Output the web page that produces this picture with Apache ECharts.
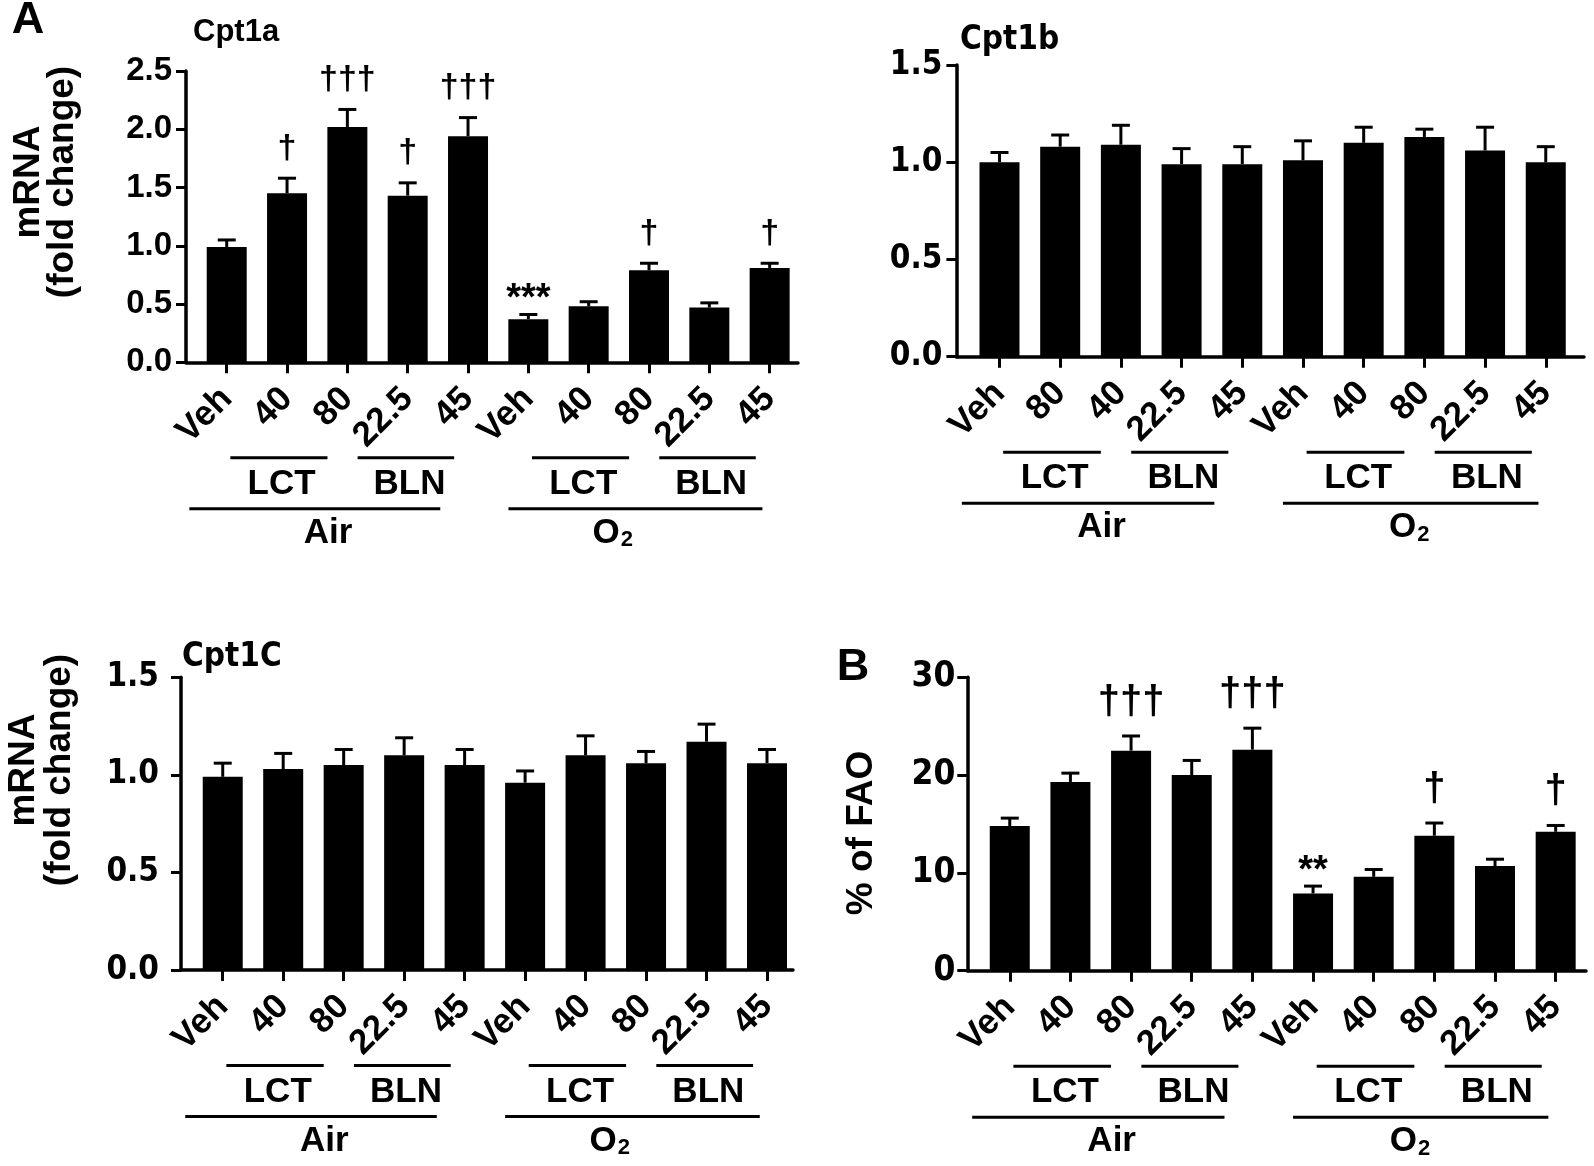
<!DOCTYPE html>
<html><head><meta charset="utf-8">
<script src="https://cdn.jsdelivr.net/npm/echarts@6/dist/echarts.min.js"></script>
<style>html,body{margin:0;padding:0;background:#fff}#c{width:1594px;height:1166px}</style>
</head><body><div id="c"></div>
<script>
// ---------- data ----------
const cpt1aLabels = ['Veh','40','80','22.5','45','Veh','40','80','22.5','45'];
const cpt1aMean   = [0.99, 1.45, 2.02, 1.43, 1.94, 0.37, 0.48, 0.79, 0.47, 0.81];
const cpt1aSem    = [0.06, 0.13, 0.15, 0.11, 0.16, 0.04, 0.04, 0.06, 0.04, 0.04];
const cpt1aSig    = ['', '†', '†††', '†', '†††', '***', '', '†', '', '†'];

const cpt1bLabels = ['Veh','80','40','22.5','45','Veh','40','80','22.5','45'];
const cpt1bMean   = [1.00, 1.08, 1.09, 0.99, 0.99, 1.01, 1.10, 1.13, 1.06, 1.00];
const cpt1bSem    = [0.05, 0.06, 0.10, 0.08, 0.09, 0.10, 0.08, 0.04, 0.12, 0.08];
const cpt1bSig    = ['', '', '', '', '', '', '', '', '', ''];

const cpt1cLabels = ['Veh','40','80','22.5','45','Veh','40','80','22.5','45'];
const cpt1cMean   = [0.99, 1.03, 1.05, 1.10, 1.05, 0.96, 1.10, 1.06, 1.17, 1.06];
const cpt1cSem    = [0.07, 0.08, 0.08, 0.09, 0.08, 0.06, 0.10, 0.06, 0.09, 0.07];
const cpt1cSig    = ['', '', '', '', '', '', '', '', '', ''];

const faoLabels   = ['Veh','40','80','22.5','45','Veh','40','80','22.5','45'];
const faoMean     = [14.8, 19.3, 22.5, 20.0, 22.6, 7.9, 9.6, 13.8, 10.7, 14.2];
const faoSem      = [0.8, 0.9, 1.5, 1.5, 2.2, 0.75, 0.75, 1.3, 0.7, 0.65];
const faoSig      = ['', '', '†††', '', '†††', '**', '', '†', '', '†'];

const drugGroups  = ['LCT', 'BLN'];
const gasGroups   = ['Air', 'O2'];

// ---------- layout / style ----------
const FONT = '"Liberation Sans", Arial, sans-serif';
const NARROW = '"Liberation Sans Narrow", "DejaVu Sans Condensed", "Liberation Sans", Arial, sans-serif';
const GROUP_SIZE = 5;
const SUB_SPANS = [[0.06, 1.67], [2.17, 3.77]];
const SUB_TEXT = [0.91, 3.03];
const GAS_SPANS = [[-0.62, 3.54], [-0.33, 3.88]];

const panels = [
  {labels: cpt1aLabels, mean: cpt1aMean, sem: cpt1aSem, sig: cpt1aSig,
   grid: {left: 186, top: 71, width: 612, height: 291.3}, xMin: -0.675, xMax: 9.47,
   yMax: 2.5, yInt: 0.5, dec: 1, tickFont: FONT, tickSize: 33, tickMargin: 14, sigSize: 34,
   gasText: [1.68, 1.4]},
  {labels: cpt1bLabels, mean: cpt1bMean, sem: cpt1bSem, sig: cpt1bSig,
   grid: {left: 956.4, top: 65, width: 627.6, height: 291.7}, xMin: -0.71, xMax: 9.63,
   yMax: 1.5, yInt: 0.5, dec: 1, tickFont: NARROW, tickSize: 33, tickMargin: 14, sigSize: 34,
   gasText: [1.68, 1.75]},
  {labels: cpt1cLabels, mean: cpt1cMean, sem: cpt1cSem, sig: cpt1cSig,
   grid: {left: 181, top: 677.3, width: 612, height: 292.7}, xMin: -0.69, xMax: 9.43,
   yMax: 1.5, yInt: 0.5, dec: 1, tickFont: NARROW, tickSize: 33, tickMargin: 22, sigSize: 34,
   gasText: [1.68, 1.4]},
  {labels: faoLabels, mean: faoMean, sem: faoSem, sig: faoSig,
   grid: {left: 967.3, top: 677.3, width: 618.7, height: 293.4}, xMin: -0.70, xMax: 9.5,
   yMax: 30, yInt: 10, dec: 0, tickFont: NARROW, tickSize: 35, tickMargin: 12, sigSize: 40,
   gasText: [1.68, 1.6]}
];

const idx = cpt1aLabels.map((_, i) => i);

const grids = [], xAxes = [], yAxes = [], series = [];
panels.forEach((p, k) => {
  grids.push(Object.assign({containLabel: false}, p.grid));
  xAxes.push({
    type: 'value', gridIndex: k, min: p.xMin, max: p.xMax,
    axisLine: {show: true, onZero: false, lineStyle: {color: '#000', width: 3.5}},
    axisTick: {show: true, customValues: idx, length: 11, lineStyle: {color: '#000', width: 3}},
    axisLabel: {show: true, customValues: idx, rotate: 45, margin: 31,
      formatter: v => p.labels[Math.round(v)],
      color: '#000', fontFamily: FONT, fontWeight: 'bold', fontSize: 35},
    splitLine: {show: false}
  });
  yAxes.push({
    type: 'value', gridIndex: k, min: 0, max: p.yMax, interval: p.yInt,
    axisLine: {show: true, onZero: false, lineStyle: {color: '#000', width: 3.5}},
    axisTick: {show: true, length: 10, lineStyle: {color: '#000', width: 3}},
    axisLabel: {margin: p.tickMargin, color: '#000', fontFamily: p.tickFont, fontWeight: 'bold',
      fontSize: p.tickSize, formatter: v => v.toFixed(p.dec)},
    splitLine: {show: false}
  });
  series.push({
    type: 'bar', xAxisIndex: k, yAxisIndex: k, barWidth: 40,
    itemStyle: {color: '#000'}, silent: true,
    data: p.mean.map((m, i) => [i, m])
  });
  series.push({
    type: 'custom', xAxisIndex: k, yAxisIndex: k, clip: false, silent: true, z: 5,
    encode: {x: 0, y: [1, 2]},
    data: p.mean.map((m, i) => [i, m, m + p.sem[i]]),
    renderItem: (params, api) => {
      const i = api.value(0), m = api.value(1), t = api.value(2);
      const p0 = api.coord([i, m]), p1 = api.coord([i, t]);
      const ch = [
        {type: 'line', shape: {x1: p0[0], y1: p0[1], x2: p1[0], y2: p1[1]}, style: {stroke: '#000', lineWidth: 3}},
        {type: 'line', shape: {x1: p1[0] - 9, y1: p1[1], x2: p1[0] + 9, y2: p1[1]}, style: {stroke: '#000', lineWidth: 3}}
      ];
      const s = p.sig[params.dataIndex];
      if (s) {
        const star = s[0] === '*';
        ch.push({type: 'text', x: p1[0], y: p1[1] - (star ? -4 : 13),
          style: {text: s, fill: '#000', fontFamily: FONT, fontWeight: 'bold',
            fontSize: star ? 38 : p.sigSize, align: 'center', verticalAlign: 'bottom'}});
      }
      return {type: 'group', children: ch};
    }
  });
  // group brackets under the axis
  const br = [];
  gasGroups.forEach((g, gi) => {
    const base = gi * GROUP_SIZE;
    drugGroups.forEach((d, di) => {
      br.push({value: [base + SUB_SPANS[di][0], base + SUB_SPANS[di][1], base + SUB_TEXT[di], 0], name: d});
    });
    br.push({value: [base + GAS_SPANS[gi][0], base + GAS_SPANS[gi][1], base + p.gasText[gi], 1], name: g});
  });
  series.push({
    type: 'custom', xAxisIndex: k, yAxisIndex: k, clip: false, silent: true,
    encode: {x: [0, 1, 2], y: 3},
    data: br,
    renderItem: (params, api) => {
      const a = api.coord([api.value(0), 0]), b = api.coord([api.value(1), 0]);
      const c = api.coord([api.value(2), 0]);
      const lvl = api.value(3);
      const name = br[params.dataIndex].name;
      const ly = a[1] + (lvl === 0 ? 95.5 : 146.5);
      const ty = a[1] + (lvl === 0 ? 122 : 171);
      const text = name === 'O2' ? '{o|O}{s|2}' : name;
      return {type: 'group', children: [
        {type: 'line', shape: {x1: a[0], y1: ly, x2: b[0], y2: ly}, style: {stroke: '#000', lineWidth: 3}},
        {type: 'text', x: c[0], y: ty, style: {text: text, fill: '#000', fontFamily: FONT, fontWeight: 'bold',
          fontSize: 35, align: 'center', verticalAlign: 'middle',
          rich: {o: {fontFamily: FONT, fontWeight: 'bold', fontSize: 35, fill: '#000', lineHeight: 36},
                 s: {fontFamily: FONT, fontWeight: 'bold', fontSize: 22, fill: '#000', lineHeight: 36, verticalAlign: 'bottom', padding: [20, 0, 0, 1]}}}}
      ]};
    }
  });
});

const txt = (text, x, y, size, family, extra) => Object.assign({
  type: 'text', x: x, y: y, silent: true,
  style: Object.assign({text: text, fill: '#000', fontFamily: family || FONT, fontWeight: 'bold',
    fontSize: size, align: 'center', verticalAlign: 'middle'}, extra || {})
});

const graphics = [
  txt('A', 28, 21, 45),
  txt('B', 853, 668, 45),
  txt('Cpt1a', 193, 32, 31, FONT, {align: 'left'}),
  txt('Cpt1b', 960, 40, 33, NARROW, {align: 'left'}),
  txt('Cpt1C', 182, 657, 33, NARROW, {align: 'left'}),
  Object.assign(txt('mRNA\n(fold change)', 46, 182, 37, FONT, {lineHeight: 34}), {rotation: Math.PI / 2}),
  Object.assign(txt('mRNA\n(fold change)', 42, 770, 37, FONT, {lineHeight: 36}), {rotation: Math.PI / 2}),
  Object.assign(txt('% of FAO', 862, 833, 37, FONT), {rotation: Math.PI / 2})
];

const chart = echarts.init(document.getElementById('c'), null, {renderer: 'canvas'});
chart.setOption({
  animation: false,
  backgroundColor: '#fff',
  grid: grids, xAxis: xAxes, yAxis: yAxes, series: series,
  graphic: graphics
});
</script></body></html>
